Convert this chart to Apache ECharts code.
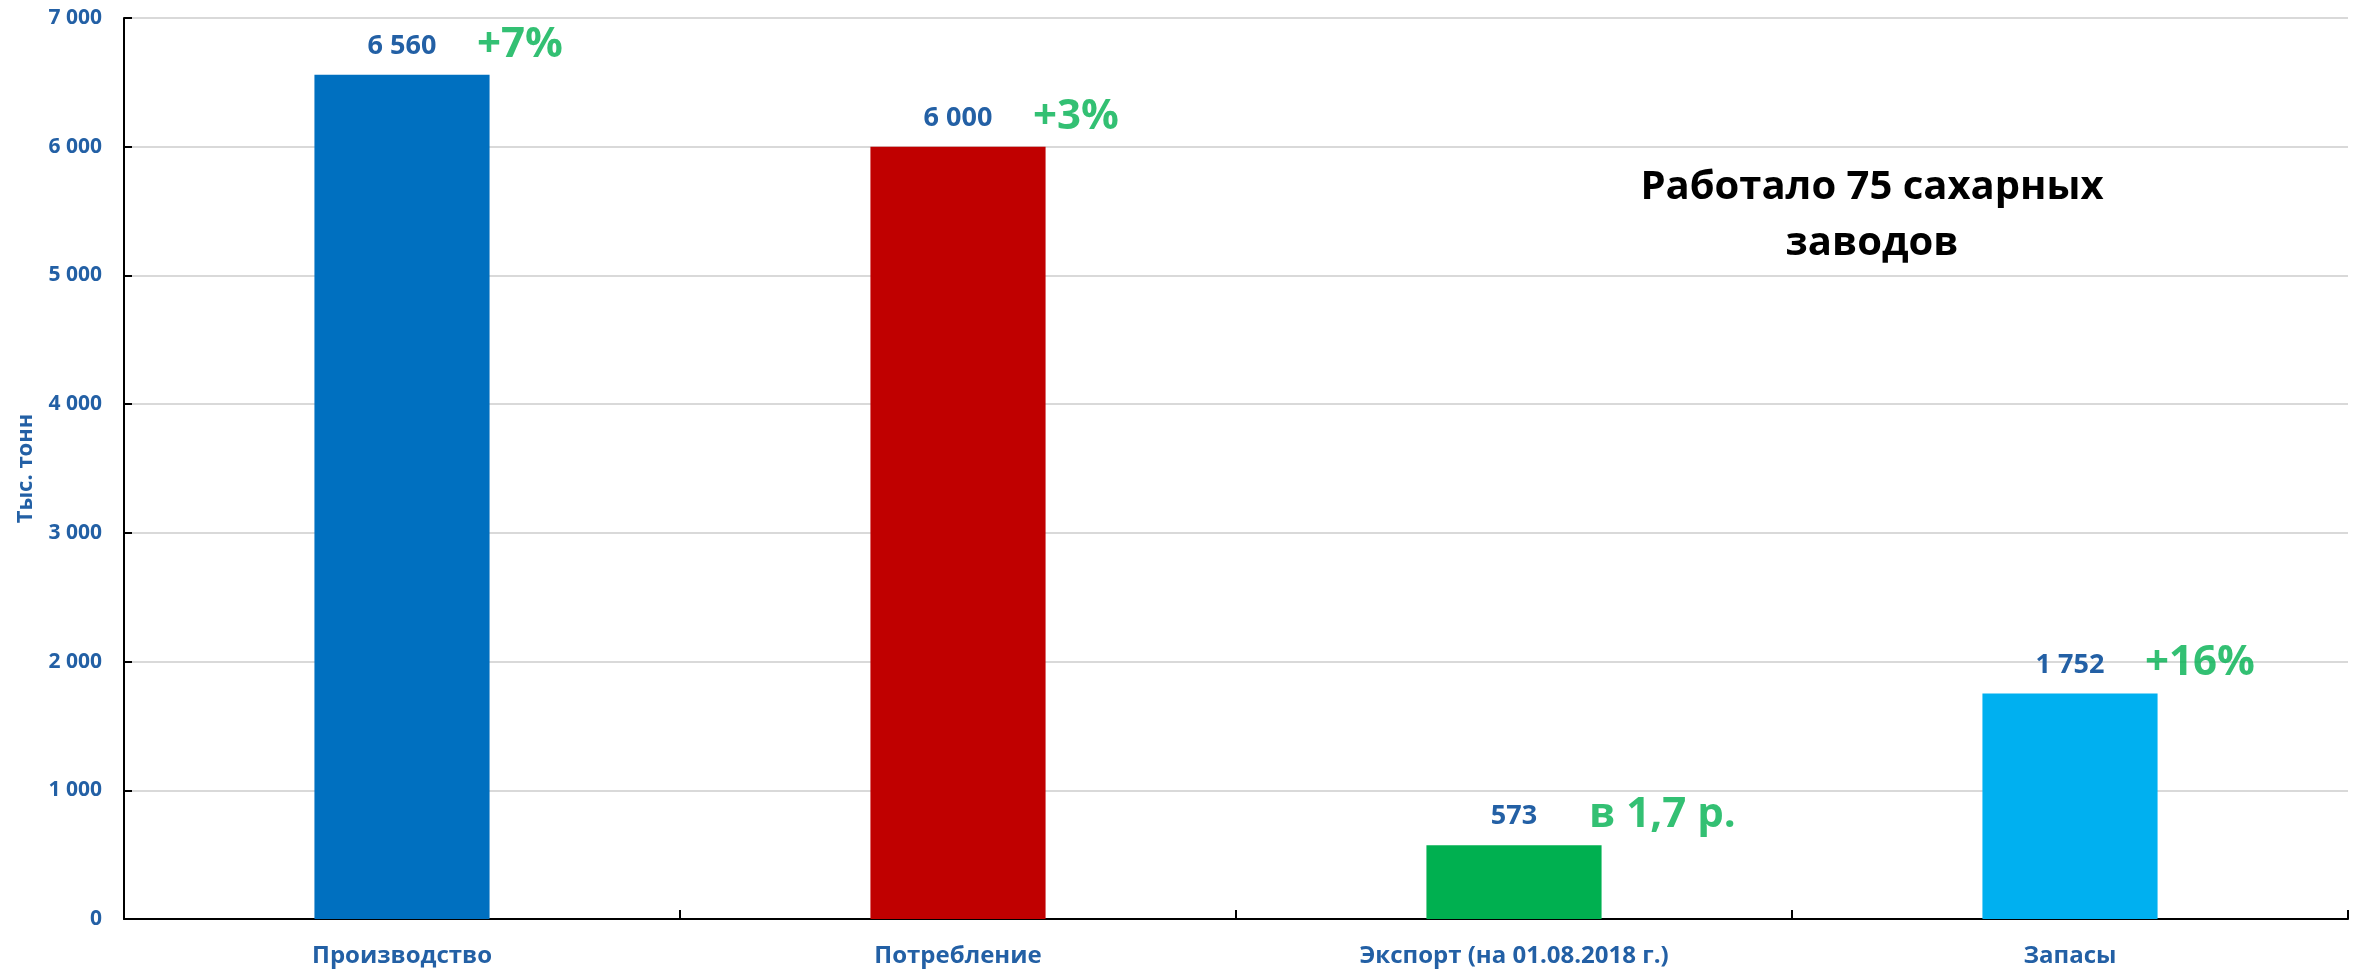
<!DOCTYPE html>
<html>
<head>
<meta charset="utf-8">
<script src="https://cdn.jsdelivr.net/npm/echarts@6/dist/echarts.min.js"></script>
<style>
html,body{margin:0;padding:0;background:#fff;}
#chart{width:2359px;height:972px;}
</style>
</head>
<body>
<div id="chart"></div>
<script>
// ---- data ----
const categories = ['Производство', 'Потребление', 'Экспорт (на 01.08.2018 г.)', 'Запасы'];
const values = [6560, 6000, 573, 1752];
const changes = ['+7%', '+3%', 'в 1,7 р.', '+16%'];
const yTicks = [0, 1000, 2000, 3000, 4000, 5000, 6000, 7000];
const axisName = 'Тыс. тонн';
const noteText = 'Работало 75 сахарных\nзаводов';

// ---- style ----
const barColors = ['#0070C0', '#C00000', '#00B050', '#00B0F0'];
const blue = '#2360A5';
const green = '#00B050';
const FONT = '"Open Sans", "Noto Sans", sans-serif';

function spaced(v) {
  return String(Math.round(v)).replace(/\B(?=(\d{3})+(?!\d))/g, ' ');
}

const chart = echarts.init(document.getElementById('chart'), null, {renderer: 'canvas'});
chart.setOption({
  animation: false,
  backgroundColor: '#ffffff',
  grid: {left: 124, right: 11, top: 18, bottom: 53, containLabel: false},
  xAxis: {
    type: 'category',
    data: categories,
    boundaryGap: true,
    axisLine: {show: true, lineStyle: {color: '#000', width: 2}},
    axisTick: {show: true, inside: true, length: 9, lineStyle: {color: '#000', width: 2}},
    axisLabel: {color: blue, fontFamily: FONT, fontWeight: 'bold', fontSize: 24, margin: 25},
    splitLine: {show: false}
  },
  yAxis: {
    type: 'value',
    min: yTicks[0],
    max: yTicks[yTicks.length - 1],
    interval: yTicks[1] - yTicks[0],
    name: axisName,
    nameLocation: 'middle',
    nameGap: 87,
    nameTextStyle: {color: blue, fontFamily: FONT, fontWeight: 'bold', fontSize: 22},
    axisLine: {show: true, lineStyle: {color: '#000', width: 2}},
    axisTick: {show: true, inside: true, length: 8, lineStyle: {color: '#000', width: 2}},
    axisLabel: {color: blue, fontFamily: FONT, fontWeight: 'bold', fontSize: 21, margin: 22,
      formatter: v => spaced(v)},
    splitLine: {show: true, lineStyle: {color: '#D9D9D9', width: 2}}
  },
  series: [
    {
      type: 'bar',
      barWidth: '31.5%',
      data: values.map((v, i) => ({value: v, itemStyle: {color: barColors[i]}})),
      label: {
        show: true, position: 'top', distance: 15,
        color: blue, fontFamily: FONT, fontWeight: 'bold', fontSize: 27,
        formatter: p => spaced(p.value)
      },
      z: 2
    },
    {
      type: 'scatter',
      symbolSize: 0,
      silent: true,
      data: values,
      label: {
        show: true,
        position: [75, -30],
        align: 'left',
        verticalAlign: 'middle',
        color: green, fontFamily: FONT, fontWeight: 'bold', fontSize: 42,
        formatter: p => changes[p.dataIndex]
      },
      z: 3
    }
  ],
  graphic: [{
    type: 'text',
    x: 1872,
    y: 160,
    style: {
      text: noteText,
      fill: '#000',
      font: 'bold 40px ' + FONT,
      textAlign: 'center',
      textVerticalAlign: 'top',
      lineHeight: 56
    }
  }]
});
</script>
</body>
</html>
